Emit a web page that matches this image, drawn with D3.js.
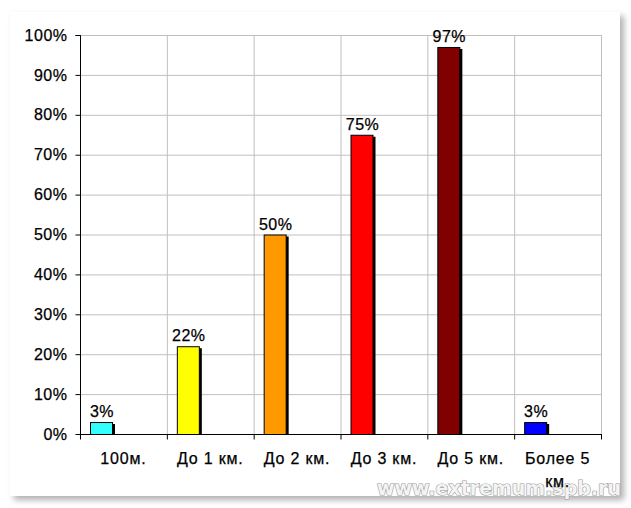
<!DOCTYPE html>
<html><head><meta charset="utf-8">
<script src="https://cdn.jsdelivr.net/npm/d3@7"></script>
<style>body{margin:0;background:#fff;}svg{display:block;}</style>
</head><body>
<svg id="c" width="631" height="508"></svg>
<script>
const categories = ["100м.", "До 1 км.", "До 2 км.", "До 3 км.", "До 5 км.", "Более 5 км."];
const values = [3, 22, 50, 75, 97, 3];
const colors = ["#33FFFF", "#FFFF00", "#FF9900", "#FF0000", "#800000", "#0000FF"];
const yTicks = [0, 10, 20, 30, 40, 50, 60, 70, 80, 90, 100];

const FONT = "Liberation Sans, Arial, sans-serif";
const svg = d3.select("#c");
const defs = svg.append("defs");
const f = defs.append("filter").attr("id","blur").attr("x","-5%").attr("y","-5%").attr("width","110%").attr("height","110%");
f.append("feGaussianBlur").attr("stdDeviation", 3);

// frame shadow and frame
svg.append("rect").attr("x", 14).attr("y", 16).attr("width", 610).attr("height", 484).attr("fill", "#b0b0b0").attr("filter", "url(#blur)");
svg.append("rect").attr("x", 10).attr("y", 12).attr("width", 610).attr("height", 484).attr("fill", "#fff");

// watermark (drawn beneath chart text)
svg.append("text").attr("x", 621).attr("y", 495).attr("text-anchor", "end")
  .attr("font-family", "DejaVu Sans, sans-serif").attr("font-size", 19).attr("font-weight", "bold")
  .attr("fill", "#f4f4f4").attr("stroke", "#9a9a9a").attr("stroke-width", 1.2).attr("paint-order", "stroke")
  .text("www.extremum.spb.ru");

const m = {l: 80, r: 601, t: 35, b: 434};
const x = d3.scaleBand().domain(categories).range([m.l, m.r]);
const y = d3.scaleLinear().domain([0, 100]).range([m.b, m.t]);

// grid
const g = svg.append("g");
g.selectAll("line.h").data(yTicks.slice(1)).join("line")
  .attr("x1", m.l).attr("x2", m.r).attr("y1", d => y(d) + 0.5).attr("y2", d => y(d) + 0.5)
  .attr("stroke", "#c0c0c0").attr("stroke-width", 1);
const vEdges = categories.slice(1).map(c => x(c)).concat([m.r]);
g.selectAll("line.v").data(vEdges).join("line")
  .attr("x1", d => d + 0.5).attr("x2", d => d + 0.5)
  .attr("y1", m.t).attr("y2", m.b)
  .attr("stroke", "#c0c0c0").attr("stroke-width", 1);

// bars
const bw = 22, off = 10;
const bars = svg.append("g");
bars.selectAll("rect.sh").data(values).join("rect")
  .attr("x", (d,i) => x(categories[i]) + off + 3)
  .attr("y", d => y(d) + 2)
  .attr("width", bw).attr("height", d => m.b - y(d) - 2)
  .attr("fill", "#000");
bars.selectAll("rect.b").data(values).join("rect")
  .attr("x", (d,i) => x(categories[i]) + off + 0.5)
  .attr("y", d => y(d) + 0.5)
  .attr("width", bw).attr("height", d => m.b - y(d))
  .attr("fill", (d,i) => colors[i]).attr("stroke", "#000").attr("stroke-width", 1);
bars.selectAll("text").data(values).join("text")
  .attr("x", (d,i) => x(categories[i]) + off + bw/2 + 1)
  .attr("y", d => y(d) - 5)
  .attr("text-anchor", "middle")
  .attr("font-family", FONT).attr("font-size", 16).attr("letter-spacing", 0.5)
  .attr("fill", "#000").attr("stroke", "#000").attr("stroke-width", 0.25)
  .text(d => d + "%");

// y axis
const ya = svg.append("g").attr("transform", `translate(${m.l + 0.5},0)`)
  .call(d3.axisLeft(y).tickValues(yTicks).tickSize(5).tickFormat(d => d + "%"));
ya.select(".domain").attr("stroke", "#000").attr("d", `M-5,${m.t + 0.5}H0V${m.b + 0.5}`);
ya.selectAll(".tick line").attr("stroke", "#000");
ya.selectAll(".tick text").attr("font-family", FONT).attr("font-size", 16).attr("letter-spacing", 0.5)
  .attr("fill", "#000").attr("stroke", "#000").attr("stroke-width", 0.25).attr("x", -13);

// x axis
const xa = svg.append("g").attr("transform", `translate(0,${m.b + 0.5})`);
xa.append("line").attr("x1", m.l).attr("x2", m.r + 1).attr("y1", 0).attr("y2", 0).attr("stroke", "#000");
const edges = categories.map(c => x(c)).concat([m.r]);
xa.selectAll("line.t").data(edges).join("line")
  .attr("x1", d => d + 0.5).attr("x2", d => d + 0.5).attr("y1", 0).attr("y2", 5).attr("stroke", "#000");
const xl = xa.selectAll("text").data(categories).join("text")
  .attr("x", d => x(d) + x.bandwidth()/2)
  .attr("y", 29.5)
  .attr("text-anchor", "middle")
  .attr("font-family", FONT).attr("font-size", 16).attr("letter-spacing", 0.8)
  .attr("fill", "#000").attr("stroke", "#000").attr("stroke-width", 0.25);
xl.each(function(d) {
  const t = d3.select(this);
  if (d === "Более 5 км.") {
    t.append("tspan").attr("x", x(d) + x.bandwidth()/2).attr("dy", 0).text("Более 5");
    t.append("tspan").attr("x", x(d) + x.bandwidth()/2).attr("dy", 23).text("км.");
  } else t.text(d);
});
</script>
</body></html>
